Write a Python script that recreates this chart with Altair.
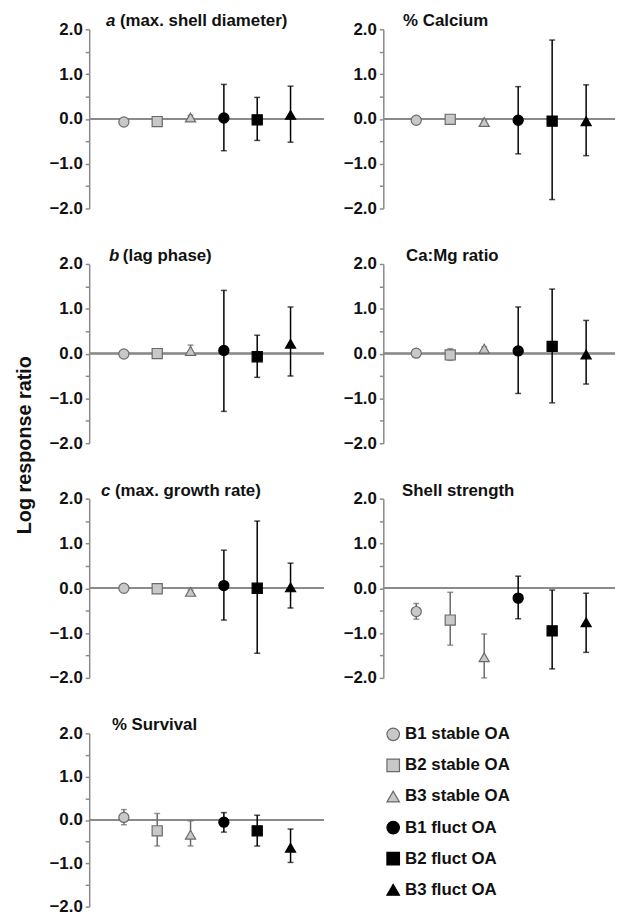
import altair as alt
import pandas as pd

FONT = "Liberation Sans"

series = ["B1 stable OA", "B2 stable OA", "B3 stable OA",
          "B1 fluct OA", "B2 fluct OA", "B3 fluct OA"]
shapes = ["circle", "square", "triangle-up", "circle", "square", "triangle-up"]
fills = ["#c8c8c8", "#c8c8c8", "#c8c8c8", "#000000", "#000000", "#000000"]
strokes = ["#6a6a6a", "#6a6a6a", "#6a6a6a", "#000000", "#000000", "#000000"]

panel_letters = ["a", "", "b", "", "c", "", ""]
panel_titles = ["(max. shell diameter)", "% Calcium", "(lag phase)", "Ca:Mg ratio",
                "(max. growth rate)", "Shell strength", "% Survival"]
title_dx = [17, 20, 20, 23, 12, 19, 23]

# values (mean, lower, upper) per panel, order = series
mean_a = [-0.07, -0.06, 0.03, 0.02, -0.02, 0.09]
low_a = [-0.12, -0.11, -0.02, -0.71, -0.48, -0.52]
high_a = [-0.02, -0.01, 0.08, 0.77, 0.48, 0.73]

mean_ca = [-0.03, -0.01, -0.07, -0.03, -0.05, -0.05]
low_ca = [-0.07, -0.05, -0.11, -0.78, -1.80, -0.82]
high_ca = [0.01, 0.03, -0.03, 0.72, 1.76, 0.76]

mean_b = [-0.01, 0.0, 0.06, 0.07, -0.07, 0.22]
low_b = [-0.05, -0.07, 0.0, -1.29, -0.53, -0.50]
high_b = [0.03, 0.07, 0.19, 1.41, 0.41, 1.04]

mean_camg = [0.01, -0.03, 0.11, 0.06, 0.16, -0.02]
low_camg = [-0.03, -0.15, 0.07, -0.89, -1.10, -0.68]
high_camg = [0.05, 0.11, 0.15, 1.04, 1.44, 0.74]

mean_c = [0.0, -0.01, -0.08, 0.06, 0.0, 0.02]
low_c = [-0.04, -0.06, -0.12, -0.71, -1.45, -0.44]
high_c = [0.04, 0.04, -0.04, 0.85, 1.50, 0.56]

mean_ss = [-0.52, -0.71, -1.54, -0.22, -0.95, -0.76]
low_ss = [-0.69, -1.27, -2.00, -0.68, -1.80, -1.43]
high_ss = [-0.34, -0.09, -1.02, 0.27, -0.04, -0.11]

mean_sv = [0.06, -0.25, -0.34, -0.05, -0.25, -0.64]
low_sv = [-0.11, -0.60, -0.60, -0.28, -0.60, -0.98]
high_sv = [0.24, 0.15, -0.02, 0.17, 0.11, -0.21]

panel_values = [
    (mean_a, low_a, high_a),
    (mean_ca, low_ca, high_ca),
    (mean_b, low_b, high_b),
    (mean_camg, low_camg, high_camg),
    (mean_c, low_c, high_c),
    (mean_ss, low_ss, high_ss),
    (mean_sv, low_sv, high_sv),
]

y_ticks = [-2.0, -1.5, -1.0, -0.5, 0.0, 0.5, 1.0, 1.5, 2.0]

YS = alt.Scale(domain=[-2, 2], nice=False, zero=False)
AX = alt.Axis(values=y_ticks,
              labelExpr="datum.value % 1 === 0 ? format(datum.value, '.1f') : ''",
              labelFont=FONT, labelFontSize=17, labelFontWeight="bold", labelColor="#111111",
              domainColor="#8a8a8a", domainWidth=1.5, tickColor="#8a8a8a", tickWidth=1.5,
              tickSize=4, labelPadding=3, grid=False, title=None)
SHAPE = alt.Scale(domain=series, range=shapes)
FILL = alt.Scale(domain=series, range=fills)
STROKE = alt.Scale(domain=series, range=strokes)

PW_L, PW_R = 237, 234
XD_L, XD_R = [-1.04, 6.0], [-0.97, 5.85]


def Y(field):
    return alt.Y(field, type="quantitative", scale=YS, axis=AX, title=None)


def make_panel(k, width, height, xdom, extra=None):
    means, lows, highs = panel_values[k]
    d = pd.DataFrame({"idx": list(range(6)), "series": series, "mean": means,
                      "lo": lows, "hi": highs, "zero": [0.0] * 6})
    base = alt.Chart(d)
    X = alt.X("idx:Q", scale=alt.Scale(domain=xdom, nice=False, zero=False), axis=None)
    zero = base.mark_rule(color="#8a8a8a", strokeWidth=1.5).encode(y=Y("zero"))
    bars = base.mark_rule(strokeWidth=1.5).encode(
        x=X, y=Y("lo"), y2="hi",
        stroke=alt.Stroke("series:N", scale=STROKE, legend=None))
    cap_lo = base.mark_tick(orient="horizontal", size=6, thickness=1.5).encode(
        x=X, y=Y("lo"), color=alt.Color("series:N", scale=STROKE, legend=None))
    cap_hi = base.mark_tick(orient="horizontal", size=6, thickness=1.5).encode(
        x=X, y=Y("hi"), color=alt.Color("series:N", scale=STROKE, legend=None))
    pts = base.mark_point(size=105, strokeWidth=1.2, opacity=1, fillOpacity=1).encode(
        x=X, y=Y("mean"),
        shape=alt.Shape("series:N", scale=SHAPE, legend=None),
        fill=alt.Fill("series:N", scale=FILL, legend=None),
        stroke=alt.Stroke("series:N", scale=STROKE, legend=None))
    layers = [zero, bars, cap_lo, cap_hi, pts]
    letter = panel_letters[k]
    dx = title_dx[k]
    if letter:
        layers.append(alt.Chart(pd.DataFrame({"t": [letter]})).mark_text(
            align="left", baseline="alphabetic", font=FONT, fontSize=17,
            fontWeight="bold", fontStyle="italic", color="#111111").encode(
            text="t:N", x=alt.value(dx), y=alt.value(-3)))
        dx += 14
    layers.append(alt.Chart(pd.DataFrame({"t": [panel_titles[k]]})).mark_text(
        align="left", baseline="alphabetic", font=FONT, fontSize=17,
        fontWeight="bold", color="#111111").encode(
        text="t:N", x=alt.value(dx), y=alt.value(-3)))
    if extra is not None:
        layers.append(extra)
    return alt.layer(*layers).properties(width=width, height=height)


ylab = alt.Chart(pd.DataFrame({"t": ["Log response ratio"]})).mark_text(
    angle=270, align="center", baseline="middle", font=FONT, fontSize=20,
    fontWeight="bold", color="#111111").encode(
    text="t:N", x=alt.value(-65), y=alt.value(183))

# legend panel
ldf = pd.DataFrame({"series": series})
LY = alt.Y("series:N", scale=alt.Scale(type="point", domain=series, range=[1, 158], padding=0),
           axis=None)
leg_pts = alt.Chart(ldf).mark_point(size=160, strokeWidth=1.2, opacity=1, fillOpacity=1).encode(
    x=alt.value(10), y=LY,
    shape=alt.Shape("series:N", scale=SHAPE, legend=None),
    fill=alt.Fill("series:N", scale=FILL, legend=None),
    stroke=alt.Stroke("series:N", scale=STROKE, legend=None))
leg_txt = alt.Chart(ldf).mark_text(align="left", baseline="middle", font=FONT, fontSize=17,
                                   fontWeight="bold", color="#111111").encode(
    x=alt.value(22), y=LY, text="series:N")
legend = alt.layer(leg_pts, leg_txt).properties(width=PW_R, height=175)

cells = [
    make_panel(0, PW_L, 181, XD_L), make_panel(1, PW_R, 181, XD_R),
    make_panel(2, PW_L, 181, XD_L, ylab), make_panel(3, PW_R, 181, XD_R),
    make_panel(4, PW_L, 181, XD_L), make_panel(5, PW_R, 181, XD_R),
    make_panel(6, PW_L, 175, XD_L), legend,
]

chart = alt.concat(*cells, columns=2, spacing={"row": 56, "column": 60}, bounds="flush").properties(
    padding={"left": 7, "top": 0, "right": 0, "bottom": 0}
).configure(background="white").configure_view(stroke=None)

chart.save("out.html", embed_options={"renderer": "svg", "actions": False})
